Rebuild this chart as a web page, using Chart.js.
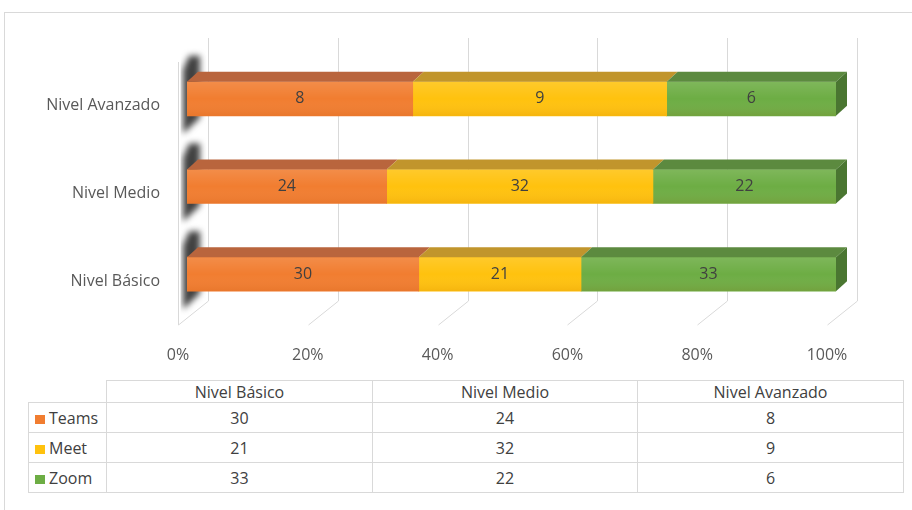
<!DOCTYPE html>
<html>
<head>
<meta charset="utf-8">
<script src="https://cdn.jsdelivr.net/npm/chart.js@4.4.0/dist/chart.umd.min.js"></script>
<style>
  body { margin: 0; width: 912px; height: 510px; overflow: hidden; background: #fff; font-family: 'Open Sans', sans-serif; }
  #marco { position: absolute; left: 4px; top: 12px; width: 1000px; height: 600px; border: 1px solid #d9d9d9; }
  #contenedor { position: absolute; left: 0; top: 0; width: 912px; height: 378px; }
  #tabla { position: absolute; left: 28px; top: 380px; border-collapse: collapse; table-layout: fixed; width: 876px; color: #404040; font-size: 16px; }
  #tabla td { border: 1px solid #d9d9d9; text-align: center; padding: 0; line-height: 20px; }
  #tabla tr.cabecera { height: 22px; }
  #tabla tr.fila { height: 30px; }
  #tabla td.vacio { border-top: none; border-left: none; }
  #tabla td.serie { text-align: left; padding-left: 6px; }
  .cuadro { display: inline-block; width: 10px; height: 9px; margin-right: 4px; vertical-align: 0px; }
</style>
</head>
<body>
<div id="marco"></div>
<div id="contenedor"><canvas id="grafico"></canvas></div>
<table id="tabla"></table>
<script>
// datos del grafico (de arriba hacia abajo en el eje)
const categorias = ['Nivel Avanzado', 'Nivel Medio', 'Nivel Básico'];
const series = ['Teams', 'Meet', 'Zoom'];
const teams = [8, 24, 30];
const meet = [9, 32, 21];
const zoom = [6, 22, 33];
const ticksPct = [0, 20, 40, 60, 80, 100];

// colores: cara frontal, cara superior, lado del ultimo segmento
const colorFrente = ['#F17D30', '#FFC20E', '#6DAD44'];
const colorArriba = ['#B9653D', '#C1952C', '#5C8A3F'];
const colorLado = '#4A7631';
const colorTexto = '#404040';
const colorEje = '#595959';
const colorGrid = '#d9d9d9';

const valores = [teams, meet, zoom];
const totales = categorias.map((_, i) => teams[i] + meet[i] + zoom[i]);
const porcentajes = valores.map(arr => arr.map((v, i) => v / totales[i] * 100)); // barra al 100%

// profundidad del efecto 3d
const DX = 11, DY = -10;

// tabla de datos debajo del grafico (columnas en orden Basico, Medio, Avanzado)
const tabla = document.getElementById('tabla');
const orden = [2, 1, 0];
let html = '<colgroup><col style="width:78px"><col style="width:266px"><col style="width:265px"><col style="width:266px"></colgroup>';
html += '<tr class="cabecera"><td class="vacio"></td>' + orden.map(i => '<td>' + categorias[i] + '</td>').join('') + '</tr>';
series.forEach((s, k) => {
  html += '<tr class="fila"><td class="serie"><span class="cuadro" style="background:' + colorFrente[k] + '"></span>' + s + '</td>' +
    orden.map(i => '<td>' + valores[k][i] + '</td>').join('') + '</tr>';
});
tabla.innerHTML = html;

const efecto3d = {
  id: 'efecto3d',
  beforeDatasetsDraw(chart) {
    const ctx = chart.ctx;
    const x = chart.scales.x;
    const area = chart.chartArea;
    const x0 = x.getPixelForValue(0);
    const yTop = area.top - 17, yBase = area.bottom - 17, yFront = area.bottom + 7;
    ctx.save();
    ctx.strokeStyle = colorGrid;
    ctx.lineWidth = 1;
    // lineas de la cuadricula al fondo con su piso
    ticksPct.forEach(v => {
      if (v === 0) return;
      const xb = Math.round(x.getPixelForValue(v) + 21) + 0.5;
      ctx.beginPath();
      ctx.moveTo(xb, yTop);
      ctx.lineTo(xb, yBase);
      ctx.lineTo(xb - 30, yFront);
      ctx.stroke();
    });
    // pared izquierda
    const wf = Math.round(x0 - 9) + 0.5, wb = Math.round(x0 + 21) + 0.5;
    ctx.beginPath();
    ctx.moveTo(wf, area.top + 7);
    ctx.lineTo(wf, yFront);
    ctx.lineTo(wb, yBase);
    ctx.lineTo(wb, yTop);
    ctx.stroke();
    // sombras de las barras sobre la pared
    ctx.beginPath();
    ctx.rect(wf + 2, yTop, wb - wf - 4, yFront - yTop);
    ctx.clip();
    ctx.filter = 'blur(3px)';
    ctx.fillStyle = 'rgba(55,55,55,0.95)';
    chart.getDatasetMeta(0).data.forEach(el => {
      const p = el.getProps(['y', 'height'], true);
      const top = p.y - p.height / 2, bottom = p.y + p.height / 2;
      ctx.beginPath();
      ctx.moveTo(x0 + 2, top - 26);
      ctx.lineTo(x0 + 13, top - 26);
      ctx.lineTo(x0 + 13, bottom + 2);
      ctx.lineTo(x0 - 4, bottom + 18);
      ctx.lineTo(x0 - 4, top - 12);
      ctx.closePath();
      ctx.fill();
    });
    ctx.restore();
  },
  afterDatasetsDraw(chart) {
    const ctx = chart.ctx;
    ctx.save();
    series.forEach((s, k) => {
      const meta = chart.getDatasetMeta(k);
      meta.data.forEach((el, i) => {
        const p = el.getProps(['x', 'y', 'base', 'height'], true);
        const left = Math.min(p.x, p.base), right = Math.max(p.x, p.base);
        const top = p.y - p.height / 2, bottom = p.y + p.height / 2;
        // degradado sobre la cara frontal
        const g = ctx.createLinearGradient(0, top, 0, bottom);
        g.addColorStop(0, 'rgba(255,255,255,0.12)');
        g.addColorStop(0.5, 'rgba(255,255,255,0)');
        g.addColorStop(1, 'rgba(160,60,0,0.10)');
        ctx.fillStyle = g;
        ctx.fillRect(left, top, right - left, bottom - top);
        // cara superior
        ctx.fillStyle = colorArriba[k];
        ctx.beginPath();
        ctx.moveTo(left, top);
        ctx.lineTo(right, top);
        ctx.lineTo(right + DX, top + DY);
        ctx.lineTo(left + DX, top + DY);
        ctx.closePath();
        ctx.fill();
        // lado derecho del ultimo segmento
        if (k === series.length - 1) {
          ctx.fillStyle = colorLado;
          ctx.beginPath();
          ctx.moveTo(right, top);
          ctx.lineTo(right + DX, top + DY);
          ctx.lineTo(right + DX, bottom + DY);
          ctx.lineTo(right, bottom);
          ctx.closePath();
          ctx.fill();
        }
        // etiqueta con el valor
        ctx.fillStyle = colorTexto;
        ctx.font = '16px "Open Sans", sans-serif';
        ctx.textAlign = 'center';
        ctx.textBaseline = 'middle';
        ctx.fillText(valores[k][i], (left + right) / 2, p.y);
      });
    });
    ctx.restore();
  }
};

new Chart(document.getElementById('grafico'), {
  type: 'bar',
  data: {
    labels: categorias,
    datasets: series.map((s, k) => ({
      label: s,
      data: porcentajes[k],
      backgroundColor: colorFrente[k],
      borderWidth: 0,
      barThickness: 34
    }))
  },
  options: {
    indexAxis: 'y',
    responsive: true,
    maintainAspectRatio: false,
    animation: false,
    layout: { padding: { top: 55, right: 76, left: 0, bottom: 0 } },
    plugins: { legend: { display: false }, tooltip: { enabled: false } },
    scales: {
      x: {
        stacked: true,
        min: 0,
        max: 100,
        afterBuildTicks: s => { s.ticks = ticksPct.map(v => ({ value: v })); },
        afterFit: s => { s.height = 60; },
        grid: { display: false },
        border: { display: false },
        ticks: {
          callback: v => v + '%',
          color: colorEje,
          font: { family: 'Open Sans', size: 16 },
          labelOffset: -9,
          padding: 20
        }
      },
      y: {
        stacked: true,
        afterFit: s => { s.width = 187; },
        grid: { display: false },
        border: { display: false },
        ticks: {
          color: colorEje,
          font: { family: 'Open Sans', size: 16 },
          labelOffset: 7,
          padding: 19
        }
      }
    }
  },
  plugins: [efecto3d]
});
</script>
</body>
</html>
